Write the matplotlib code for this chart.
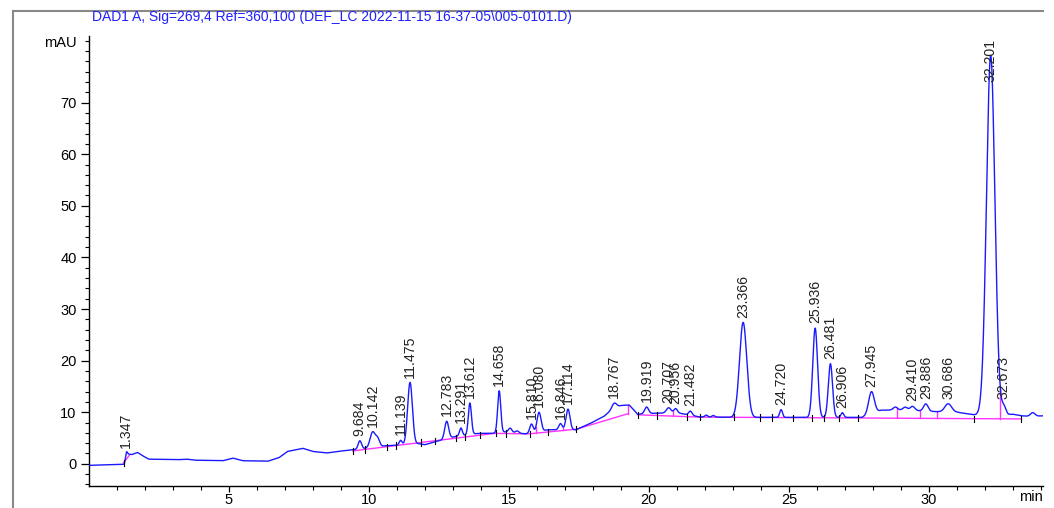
import matplotlib
matplotlib.use("Agg")
import matplotlib.pyplot as plt
from matplotlib.lines import Line2D
import numpy as np

plt.rcParams['font.family'] = ['Liberation Sans', 'DejaVu Sans']

# integrated peaks: retention time (min), height above drift (mAU), sigma (min)
peak_rt = [1.347, 9.684, 10.142, 11.139, 11.475, 12.783, 13.291, 13.612, 14.658,
           15.810, 16.080, 16.846, 17.114, 18.767, 19.919, 20.707, 20.956, 21.482,
           23.366, 24.720, 25.936, 26.481, 26.906, 27.945, 29.410, 29.886, 30.686,
           32.201, 32.673]
peak_height = [0.5, 1.6, 3.0, 0.9, 12.0, 3.4, 1.5, 6.1, 8.1,
               1.7, 3.7, 1.2, 4.0, 1.0, 1.3, 1.0, 0.8, 0.8,
               18.4, 1.5, 17.3, 10.4, 0.9, 4.3, 0.8, 1.4, 1.6,
               69.7, 1.5]
peak_sigma = [0.04, 0.06, 0.09, 0.05, 0.085, 0.07, 0.05, 0.055, 0.055,
              0.06, 0.07, 0.06, 0.07, 0.08, 0.07, 0.08, 0.06, 0.06,
              0.13, 0.05, 0.085, 0.075, 0.05, 0.1, 0.08, 0.08, 0.12,
              0.15, 0.07]

# small unlabelled bumps
minor_rt = [10.32, 15.05, 15.30, 22.05, 22.30, 28.80, 29.15, 33.70]
minor_height = [1.5, 0.8, 0.4, 0.35, 0.3, 0.6, 0.6, 0.7]
minor_sigma = [0.07, 0.06, 0.06, 0.05, 0.05, 0.08, 0.08, 0.08]

# slow drift of the detector signal
drift_t = [0.0, 1.28, 1.36, 1.55, 1.75, 1.95, 2.15, 3.2, 3.5, 3.8, 4.8, 5.15, 5.5,
           6.4, 6.8, 7.1, 7.65, 8.0, 8.5, 8.9, 9.4, 9.9, 10.6, 11.0, 11.8, 12.0,
           12.4, 13.1, 13.9, 14.4, 14.9, 15.6, 16.4, 17.4, 17.9, 18.4, 18.7, 19.0,
           19.3, 19.6, 20.2, 21.0, 21.8, 23.0, 24.0, 25.0, 26.0, 27.0, 27.6, 28.3,
           29.0, 29.6, 30.3, 31.0, 31.6, 32.0, 32.5, 33.0, 33.3, 33.6, 34.07]
drift_v = [-0.3, -0.1, 1.9, 1.8, 2.2, 1.5, 0.9, 0.8, 0.9, 0.7, 0.6, 1.1, 0.6,
           0.5, 1.2, 2.4, 3.0, 2.4, 2.1, 2.4, 2.7, 3.0, 3.5, 3.6, 3.9, 3.7,
           4.3, 5.3, 5.9, 5.9, 6.2, 5.8, 6.6, 6.6, 7.8, 9.2, 10.6, 11.3,
           11.4, 9.6, 9.8, 9.9, 9.1, 9.0, 9.0, 9.0, 9.0, 9.0, 9.0, 10.4,
           10.4, 10.3, 10.1, 10.0, 9.5, 9.4, 9.5, 9.6, 9.3, 9.2, 9.3]

# integration baseline (NaN separates segments)
base_t = [1.25, 1.45, np.nan, 9.43, 14.5, 15.7, 17.4, 19.25, np.nan, 19.6, 21.8, 33.3]
base_v = [0.2, 1.6, np.nan, 2.5, 5.9, 5.8, 6.7, 9.7, np.nan, 9.5, 9.05, 8.7]

# peak start/end marks and drop lines
event_t = [1.25, 9.43, 9.86, 10.65, 10.99, 11.88, 12.36, 13.13, 13.45, 13.96, 14.56,
           14.9, 15.75, 16.4, 17.4, 19.6, 20.3, 21.37, 21.82, 23.04, 23.97, 24.38,
           25.13, 25.84, 26.26, 26.79, 27.45, 31.62, 33.3]
drop_t = [15.96, 16.95, 19.25, 20.86, 28.85, 29.68, 30.27, 32.55]

title = "DAD1 A, Sig=269,4 Ref=360,100 (DEF_LC 2022-11-15 16-37-05\\005-0101.D)"


def signal(t):
    y = np.interp(t, drift_t, drift_v)
    for rt, h, s in zip(peak_rt + minor_rt, peak_height + minor_height,
                        peak_sigma + minor_sigma):
        y = y + h * np.exp(-0.5 * ((t - rt) / s) ** 2)
    return y


def baseline_at(t):
    bt = np.array(base_t)
    bv = np.array(base_v)
    ok = ~np.isnan(bt)
    return np.interp(t, bt[ok], bv[ok])


t = np.linspace(0, 34.07, 8000)
y = signal(t)

fig = plt.figure(figsize=(10.54, 5.08), dpi=100)
ax = fig.add_axes([0.084, 0.0433, 0.9056, 0.8858])

ax.plot(t, y, color='#1a1aff', lw=1.0, zorder=3)
ax.plot(base_t, base_v, color='#ff33ff', lw=1.0, zorder=2)

for d in drop_t:
    ax.plot([d, d], [baseline_at(d), signal(d)], color='#ff33ff', lw=1.0, zorder=2)
for e in event_t:
    b = baseline_at(e)
    ax.plot([e, e], [b - 0.6, b + 0.6], color='black', lw=0.8, zorder=4)

ymax = 82.9
for rt in peak_rt:
    top = float(signal(rt))
    if top > 70:
        ax.text(rt, ymax - 0.6, f"{rt:.3f}", rotation=90, ha='center', va='top',
                fontsize=10.2, color='#222222', zorder=5)
    else:
        ax.annotate(f"{rt:.3f}", (rt, top), xytext=(0, 3.5), textcoords='offset points',
                    rotation=90, ha='center', va='bottom', fontsize=10.2,
                    color='#222222', zorder=5)

ax.set_xlim(0, 34.07)
ax.set_ylim(-4.3, ymax)
ax.set_xticks([5, 10, 15, 20, 25, 30])
ax.set_xticks(np.arange(1, 35), minor=True)
ax.set_yticks(np.arange(0, 80, 10))
ax.set_yticks(np.arange(-4, 83, 2), minor=True)
ax.tick_params(axis='y', which='major', direction='out', length=5.5, width=0.9,
               labelsize=10.5, pad=3)
ax.tick_params(axis='x', which='major', direction='out', length=4, width=0.9,
               labelsize=10.5, pad=1.2)
ax.tick_params(which='minor', direction='out', length=3.0, width=0.8)
for side in ('top', 'right'):
    ax.spines[side].set_visible(False)
for side in ('left', 'bottom'):
    ax.spines[side].set_linewidth(1.0)

ax.text(-0.012, ymax - 1.3, "mAU", transform=ax.get_yaxis_transform(),
        ha='right', va='center', fontsize=10.5)
ax.text(34.07, -6.4, "min", ha='right', va='center', fontsize=10.5)

fig.text(0.0873, 0.9665, title, color='#2020ff', fontsize=10, ha='left', va='center')

# frame around the report
fig.add_artist(Line2D([0.0119, 0.0119], [0.0, 0.978], color='#888888', lw=1.5))
fig.add_artist(Line2D([0.0119, 0.9896], [0.978, 0.978], color='#888888', lw=1.5))

fig.savefig("out.png", dpi=100)
